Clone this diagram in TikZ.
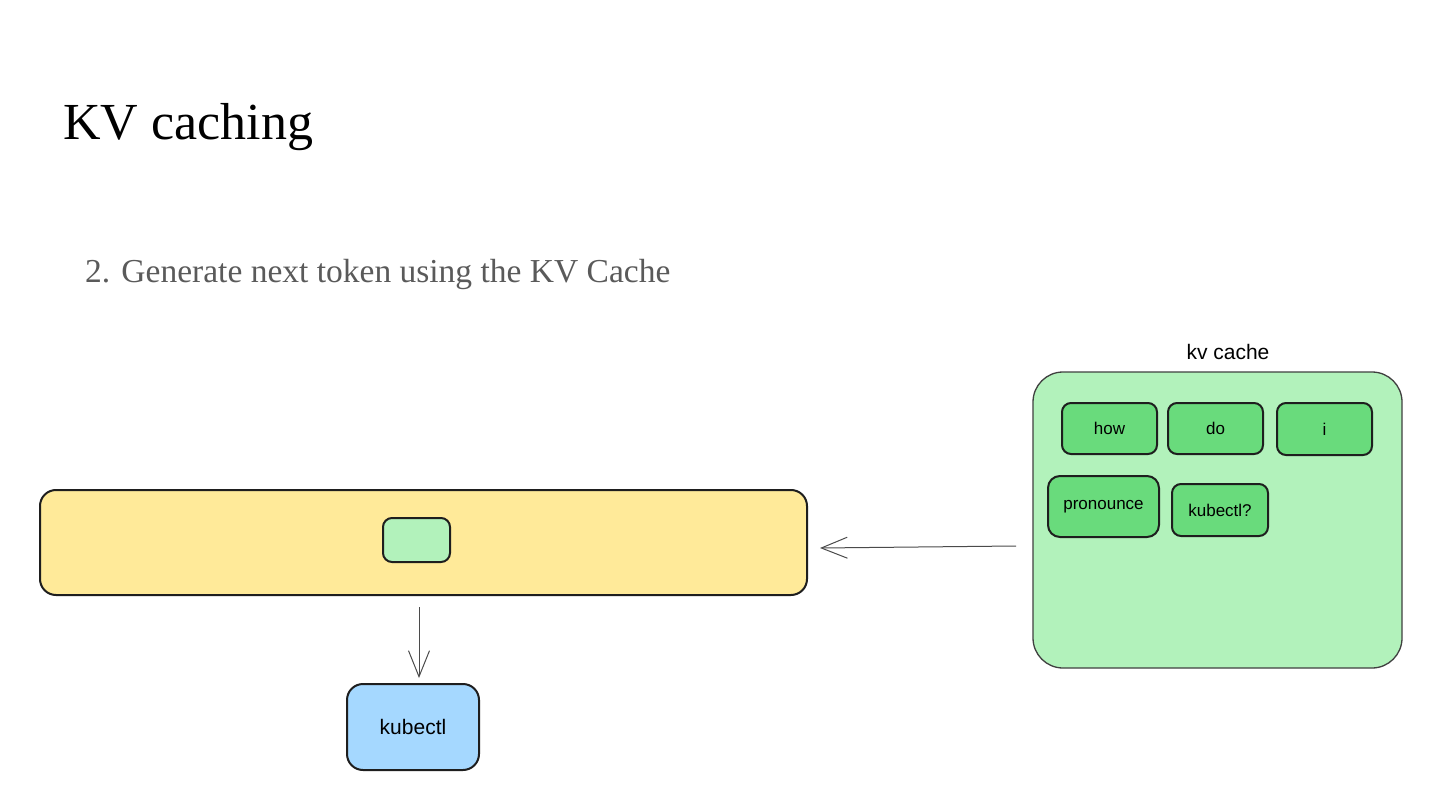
\documentclass[tikz,border=0pt]{standalone}
\usepackage{fontspec}
\setmainfont{Liberation Serif}
\newfontfamily\handfont{Liberation Sans}
\usetikzlibrary{arrows.meta}
\definecolor{barfill}{HTML}{FFEA99}
\definecolor{lightgreen}{HTML}{B2F2BB}
\definecolor{tokgreen}{HTML}{69DB7C}
\definecolor{lightblue}{HTML}{A5D8FF}
\definecolor{subgray}{HTML}{5A5A5A}
\definecolor{edge}{HTML}{1E1E1E}
\tikzset{
  box/.style={draw=edge, line width=2pt, rounded corners=12pt, inner sep=0pt},
  token/.style={box, fill=tokgreen, rounded corners=9pt, font=\handfont\fontsize{17}{19}\selectfont},
  conn/.style={draw=edge!80, line width=1pt, -{Straight Barb[length=26pt,width=21pt,line width=1pt]}},
}
\begin{document}
\begin{tikzpicture}[x=1pt,y=-1pt]
\useasboundingbox[fill=white] (0,0) rectangle (1440,810);
% titles
\node[anchor=base west, inner sep=0pt, font=\fontsize{52}{58}\selectfont] (title) at (63,140) {KV caching};
\node[anchor=base west, inner sep=0pt, text=subgray, font=\fontsize{33.5}{38}\selectfont] (sub) at (85,283) {2. Generate next token using the KV Cache};
% model bar
\node[box, fill=barfill, minimum width=767pt, minimum height=105pt, rounded corners=16pt] (bar) at (423.5,542.5) {};
\node[box, fill=lightgreen, minimum width=67pt, minimum height=44pt, rounded corners=9pt] (slot) at (416.5,540) {};
% output
\node[box, fill=lightblue, minimum width=132pt, minimum height=86pt, rounded corners=16pt, font=\handfont\fontsize{21}{23}\selectfont] (out) at (413,727) {kubectl};
% kv cache
\node[draw=edge!85, line width=1.3pt, fill=lightgreen, rounded corners=30pt, minimum width=369pt, minimum height=296pt, inner sep=0pt] (cache) at (1217.5,520) {};
\node[font=\handfont\fontsize{21}{23}\selectfont, anchor=south] (cachelbl) at (1228,363) {kv cache};
\node[token, minimum width=95pt, minimum height=51pt] (t1) at (1109.5,428.5) {how};
\node[token, minimum width=95pt, minimum height=51pt] (t2) at (1215.5,428.5) {do};
\node[token, minimum width=95pt, minimum height=52pt] (t3) at (1324.5,429) {i};
\node[token, minimum width=111pt, minimum height=61pt, rounded corners=12pt] (t4) at (1103.5,506.5) {pronounce};
\node[token, minimum width=96pt, minimum height=52pt] (t5) at (1220,510) {kubectl?};
% connectors
\coordinate (cin) at (1016,546);
\coordinate (bin) at (820,548);
\draw[conn] (cin) -- (bin);
\coordinate (dtop) at (419,607);
\coordinate (dend) at (419,678);
\draw[conn] (dtop) -- (dend);
\end{tikzpicture}
\end{document}
